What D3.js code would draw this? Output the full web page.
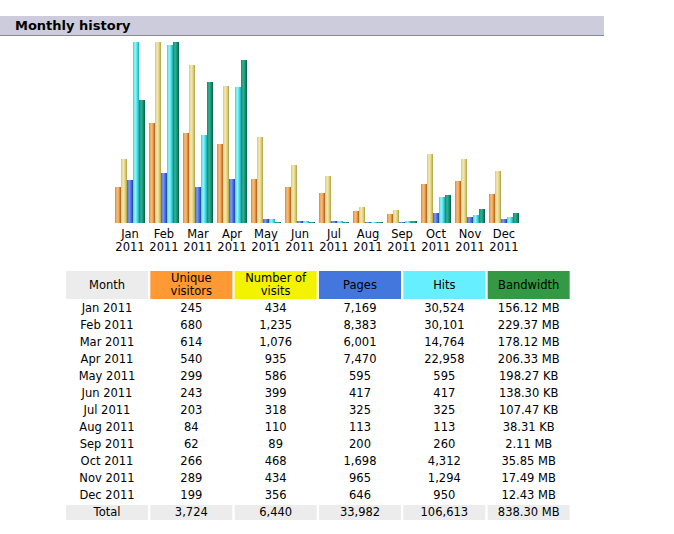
<!DOCTYPE html>
<html>
<head>
<meta charset="utf-8">
<script src="https://cdn.jsdelivr.net/npm/d3@7"></script>
<style>
  html, body { margin: 0; padding: 0; background: #fff; }
  svg text { font-family: "DejaVu Sans", Verdana, sans-serif; }
</style>
</head>
<body>
<svg class="chart" width="674" height="534"></svg>
<script>
var months = ["Jan", "Feb", "Mar", "Apr", "May", "Jun", "Jul", "Aug", "Sep", "Oct", "Nov", "Dec"];
var year = "2011";
var unique = [245, 680, 614, 540, 299, 243, 203, 84, 62, 266, 289, 199];
var visits = [434, 1235, 1076, 935, 586, 399, 318, 110, 89, 468, 434, 356];
var pages = [7169, 8383, 6001, 7470, 595, 417, 325, 113, 200, 1698, 965, 646];
var hits = [30524, 30101, 14764, 22958, 595, 417, 325, 113, 260, 4312, 1294, 950];
var bandwidth = ["156.12 MB", "229.37 MB", "178.12 MB", "206.33 MB", "198.27 KB", "138.30 KB",
                 "107.47 KB", "38.31 KB", "2.11 MB", "35.85 MB", "17.49 MB", "12.43 MB"];
var bandwidthTotal = "838.30 MB";
var headers = ["Month", "Unique\nvisitors", "Number of\nvisits", "Pages", "Hits", "Bandwidth"];
var headerColors = ["#ECECEC", "#FF9933", "#F3F300", "#4477DD", "#66F0FF", "#339944"];

// bandwidth strings -> KB for bar heights
var bwKB = bandwidth.map(function(s) {
  var p = s.split(" ");
  return +p[0] * (p[1] == "MB" ? 1024 : 1);
});

var svg = d3.select("svg.chart");
var fmt = d3.format(",");
var fs = "11.5px";

/* ---------- title bar ---------- */
svg.append("rect").attr("x", 0).attr("y", 16).attr("width", 604).attr("height", 20).attr("fill", "#CCCCDD");
svg.append("rect").attr("x", 0).attr("y", 35).attr("width", 604).attr("height", 1).attr("fill", "#8A8A96");
svg.append("text").attr("x", 15).attr("y", 30)
  .attr("font-size", "13px").attr("font-weight", "bold").attr("fill", "#000")
  .text("Monthly history");

/* ---------- bar chart ---------- */
var baseY = 223, maxH = 181;
var series = [
  {key: "u", vals: unique, max: d3.max(visits), cols: ["#D88838", "#F6BE7A", "#F0A452", "#A85A14"]},
  {key: "v", vals: visits, max: d3.max(visits), cols: ["#D8C870", "#F2EAB2", "#E4D488", "#B0A040"]},
  {key: "p", vals: pages, max: d3.max(hits), cols: ["#3C64D4", "#7C9CF4", "#4C74E0", "#2040A8"]},
  {key: "h", vals: hits, max: d3.max(hits), cols: ["#38D0D8", "#9AF8F8", "#50E4E8", "#18A8B8"]},
  {key: "b", vals: bwKB, max: d3.max(bwKB), cols: ["#0C8C6C", "#34B090", "#149878", "#005C44"]}
];

var defs = svg.append("defs");
series.forEach(function(s) {
  var gr = defs.append("linearGradient").attr("id", "g" + s.key)
    .attr("x1", 0).attr("x2", 1).attr("y1", 0).attr("y2", 0);
  [0, 0.35, 0.65, 1].forEach(function(o, i) {
    gr.append("stop").attr("offset", o).attr("stop-color", s.cols[i]);
  });
});

var x0 = d3.scaleBand().domain(months).range([115, 115 + 34 * 12 - 4]).paddingInner(4 / 34).paddingOuter(0);
var x1 = d3.scaleBand().domain(series.map(function(s) { return s.key; })).range([0, x0.bandwidth()]);

var groups = svg.append("g").selectAll("g").data(months).join("g")
  .attr("transform", function(d) { return "translate(" + x0(d) + ",0)"; });

groups.selectAll("rect")
  .data(function(d, i) {
    return series.map(function(s) {
      return {key: s.key, h: d3.scaleLinear().domain([0, s.max]).range([0, maxH])(s.vals[i])};
    });
  })
  .join("rect")
  .attr("x", function(d) { return x1(d.key); })
  .attr("width", x1.bandwidth())
  .attr("y", function(d) { return baseY - Math.max(1, Math.round(d.h)); })
  .attr("height", function(d) { return Math.max(1, Math.round(d.h)); })
  .attr("fill", function(d) { return "url(#g" + d.key + ")"; });

groups.append("text").attr("x", x0.bandwidth() / 2).attr("y", 238)
  .attr("text-anchor", "middle").attr("font-size", fs).attr("fill", "#000")
  .text(function(d) { return d; });
groups.append("text").attr("x", x0.bandwidth() / 2).attr("y", 251)
  .attr("text-anchor", "middle").attr("font-size", fs).attr("fill", "#000")
  .text(year);

/* ---------- table ---------- */
var colX = d3.scaleBand().domain(d3.range(6)).range([66, 66 + 84 * 6]).paddingInner(2 / 84).paddingOuter(0);
var colW = 82;
var table = svg.append("g");

var head = table.selectAll("g.head").data(headers).join("g").attr("class", "head");
head.append("rect")
  .attr("x", function(d, i) { return colX(i); }).attr("y", 271)
  .attr("width", colW).attr("height", 28)
  .attr("fill", function(d, i) { return headerColors[i]; });
head.each(function(d, i) {
  var lines = d.split("\n");
  var t = d3.select(this).append("text")
    .attr("text-anchor", "middle").attr("font-size", fs).attr("fill", "#000");
  lines.forEach(function(l, k) {
    t.append("tspan").attr("x", colX(i) + colW / 2)
      .attr("y", lines.length == 1 ? 289 : 282 + k * 13)
      .text(l);
  });
});

var rows = months.map(function(m, i) {
  return [m + " " + year, fmt(unique[i]), fmt(visits[i]), fmt(pages[i]), fmt(hits[i]), bandwidth[i]];
});
var totals = ["Total", fmt(d3.sum(unique)), fmt(d3.sum(visits)), fmt(d3.sum(pages)), fmt(d3.sum(hits)), bandwidthTotal];

var rowY = d3.scaleLinear().domain([0, 1]).range([312, 329]);

table.selectAll("g.row").data(rows).join("g").attr("class", "row")
  .each(function(r, i) {
    d3.select(this).selectAll("text").data(r).join("text")
      .attr("x", function(d, j) { return colX(j) + colW / 2; })
      .attr("y", rowY(i))
      .attr("text-anchor", "middle").attr("font-size", fs).attr("fill", "#000")
      .text(function(d) { return d; });
  });

var tot = table.append("g");
tot.selectAll("rect").data(totals).join("rect")
  .attr("x", function(d, j) { return colX(j); }).attr("y", 505)
  .attr("width", colW).attr("height", 15).attr("fill", "#ECECEC");
tot.selectAll("text").data(totals).join("text")
  .attr("x", function(d, j) { return colX(j) + colW / 2; })
  .attr("y", rowY(12))
  .attr("text-anchor", "middle").attr("font-size", fs).attr("fill", "#000")
  .text(function(d) { return d; });
</script>
</body>
</html>
